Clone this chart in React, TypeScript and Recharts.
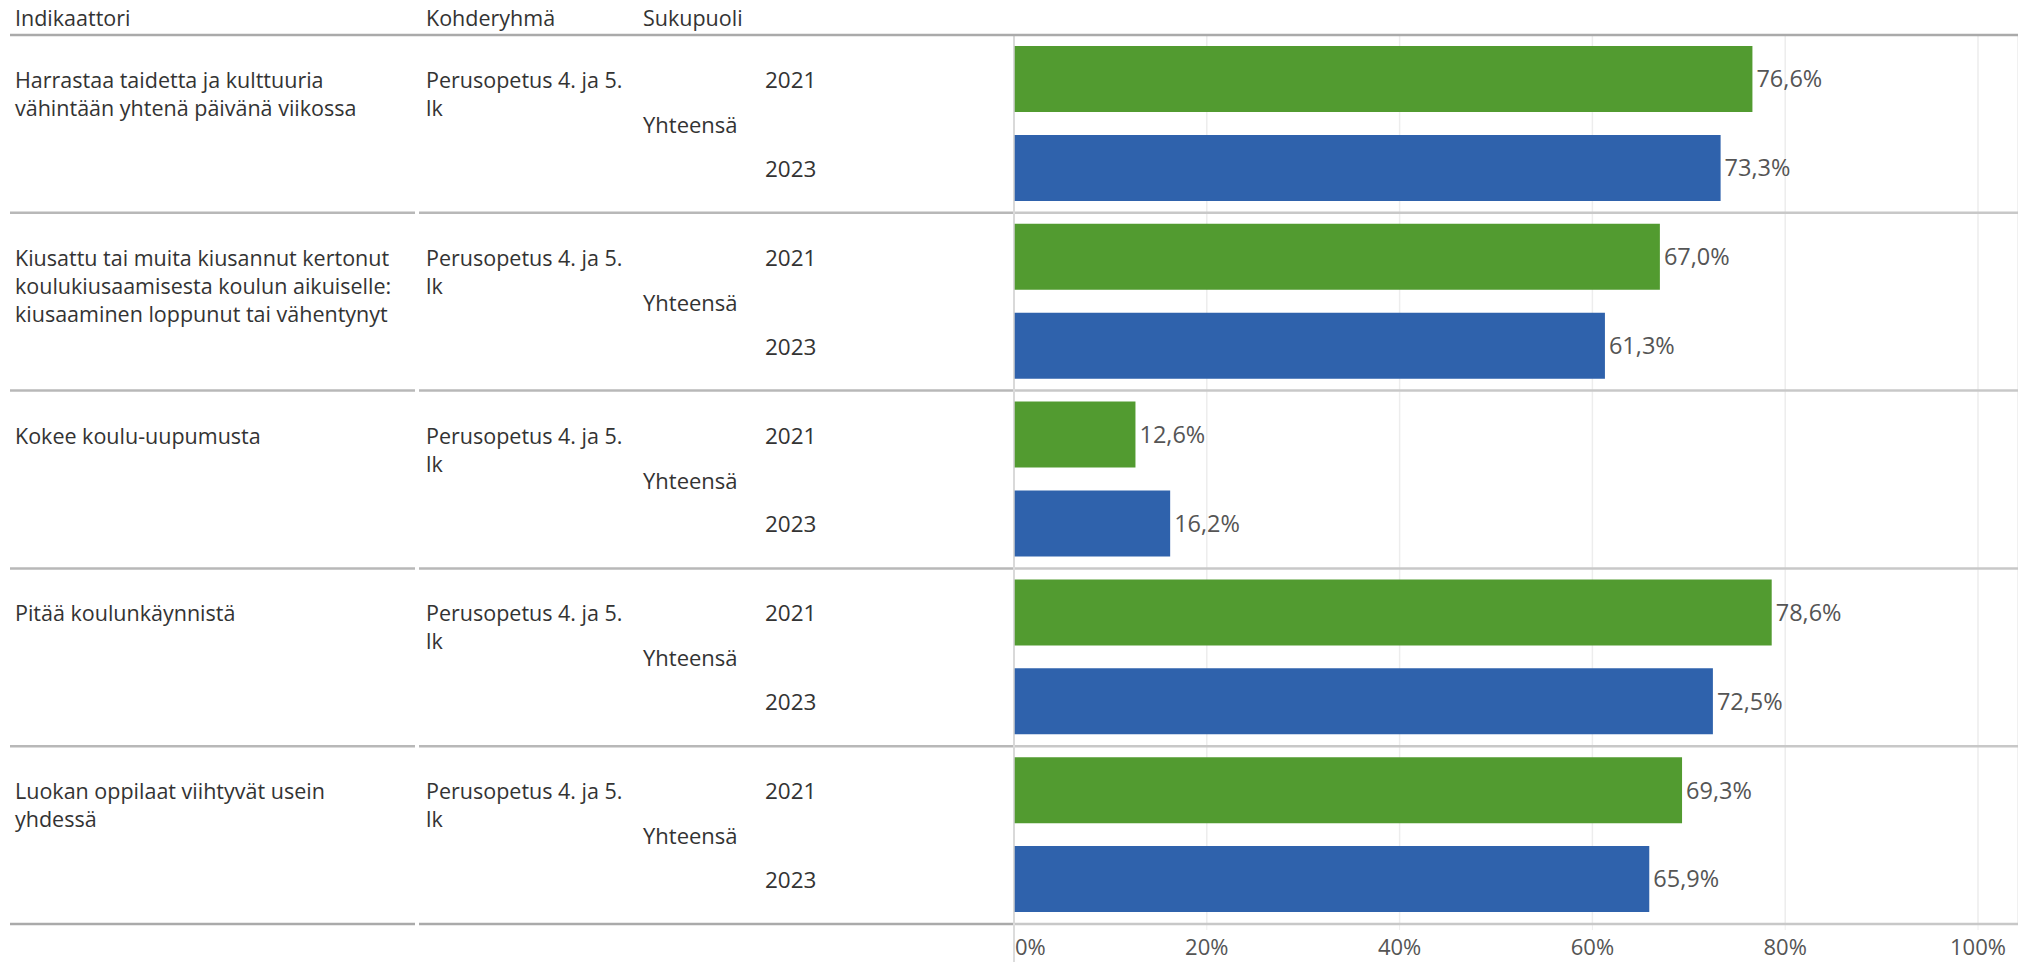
import React from "react";
import { BarChart, Bar, XAxis, YAxis, CartesianGrid, Cell, LabelList, ReferenceLine } from "recharts";

const indicators = [
  ["Harrastaa taidetta ja kulttuuria", "vähintään yhtenä päivänä viikossa"],
  ["Kiusattu tai muita kiusannut kertonut", "koulukiusaamisesta koulun aikuiselle:", "kiusaaminen loppunut tai vähentynyt"],
  ["Kokee koulu-uupumusta"],
  ["Pitää koulunkäynnistä"],
  ["Luokan oppilaat viihtyvät usein", "yhdessä"],
];
const targetGroup = ["Perusopetus 4. ja 5.", "lk"];
const genderLabel = "Yhteensä";
const headers = ["Indikaattori", "Kohderyhmä", "Sukupuoli"];
const years = ["2021", "2023"];
const values2021 = [76.6, 67.0, 12.6, 78.6, 69.3];
const values2023 = [73.3, 61.3, 16.2, 72.5, 65.9];
const xTicks = [0, 20, 40, 60, 80, 100];

const colors: Record<string, string> = { "2021": "#529b30", "2023": "#2f62ac" };

const W = 2018;
const H = 962;
const TOP = 35;
const BOTTOM_Y = 924;
const LEFT = 1014;
const FONT = "'Open Sans', Lato, sans-serif";
const FS = 21.5;

const data = indicators.flatMap((ind, i) =>
  years.map((yr, j) => ({
    key: `${i}-${yr}`,
    group: i,
    year: yr,
    value: j === 0 ? values2021[i] : values2023[i],
  }))
);

const band = (BOTTOM_Y - TOP) / data.length;
const SEP = "#b8b8b8";

const fmt = (v: number) => v.toFixed(1).replace(".", ",") + "%";

const YTick = (props: any) => {
  const { y, payload } = props;
  const d = data.find((r) => r.key === payload.value);
  if (!d) return null;
  const els: any[] = [];
  const isFirst = d.year === years[0];
  els.push(
    <text key="yr" x={765} y={y} dominantBaseline="central" fontSize={22.5} fill="#333" fontFamily={FONT}>
      {d.year}
    </text>
  );
  if (isFirst) {
    const top = y - band / 2;
    indicators[d.group].forEach((ln, k) =>
      els.push(
        <text key={"i" + k} x={15} y={y + k * 28} dominantBaseline="central" fontSize={FS} fill="#333" fontFamily={FONT}>
          {ln}
        </text>
      )
    );
    targetGroup.forEach((ln, k) =>
      els.push(
        <text key={"t" + k} x={426} y={y + k * 28} dominantBaseline="central" fontSize={FS} fill="#333" fontFamily={FONT}>
          {ln}
        </text>
      )
    );
    els.push(
      <text key="g" x={643} y={y + band / 2} dominantBaseline="central" fontSize={22} fill="#333" fontFamily={FONT}>
        {genderLabel}
      </text>
    );
    if (d.group === 0) {
      const hx = [15, 426, 643];
      headers.forEach((h, k) =>
        els.push(
          <text key={"h" + k} x={hx[k]} y={top - 18} dominantBaseline="central" fontSize={FS} fill="#333" fontFamily={FONT}>
            {h}
          </text>
        )
      );
      els.push(<line key="hl" x1={10} x2={W} y1={top} y2={top} stroke="#aaa" strokeWidth={2.5} />);
    } else {
      els.push(<line key="s1" x1={10} x2={415} y1={top} y2={top} stroke={SEP} strokeWidth={2.5} />);
      els.push(<line key="s2" x1={419} x2={LEFT - 1} y1={top} y2={top} stroke={SEP} strokeWidth={2.5} />);
      els.push(<line key="s3" x1={LEFT + 1} x2={W} y1={top} y2={top} stroke="#c8c8c8" strokeWidth={2.5} />);
    }
  } else if (d.group === indicators.length - 1) {
    const bot = y + band / 2;
    els.push(<line key="b1" x1={10} x2={415} y1={bot} y2={bot} stroke="#aaa" strokeWidth={2.5} />);
    els.push(<line key="b2" x1={419} x2={LEFT - 1} y1={bot} y2={bot} stroke="#aaa" strokeWidth={2.5} />);
    els.push(<line key="b3" x1={LEFT + 1} x2={W} y1={bot} y2={bot} stroke="#c8c8c8" strokeWidth={2.5} />);
  }
  return <g>{els}</g>;
};

const XTick = (props: any) => {
  const { x, payload } = props;
  const v = payload.value;
  return (
    <g>
      {v === 0 && <line x1={x} x2={x} y1={BOTTOM_Y} y2={H} stroke="#d0d0d0" strokeWidth={1.5} />}
      {v !== 0 && <line x1={x} x2={x} y1={BOTTOM_Y} y2={BOTTOM_Y + 6} stroke="#eee" strokeWidth={1} />}
      <text
        x={v === 0 ? x + 1 : x}
        y={946}
        textAnchor={v === 0 ? "start" : "middle"}
        dominantBaseline="central"
        fontSize={22}
        fill="#555"
        fontFamily={FONT}
      >
        {v + "%"}
      </text>
    </g>
  );
};

export default function App() {
  return (
    <div style={{ position: "absolute", left: 0, top: 0, width: W, height: H, background: "#fff" }}>
      <BarChart
        width={W}
        height={H}
        data={data}
        layout="vertical"
        margin={{ top: TOP, right: 0, left: 0, bottom: H - BOTTOM_Y - 30 }}
        barCategoryGap={0}
      >
        <CartesianGrid horizontal={false} vertical={true} stroke="#ededed" strokeWidth={1.5} />
        <XAxis
          type="number"
          domain={[0, (W - LEFT) / ((1978 - LEFT) / 100)]}
          ticks={xTicks}
          axisLine={false}
          tickLine={false}
          height={30}
          tick={<XTick />}
          interval={0}
        />
        <YAxis
          type="category"
          dataKey="key"
          width={LEFT}
          axisLine={false}
          tickLine={false}
          tick={<YTick />}
          interval={0}
        />
        <ReferenceLine x={0} stroke="#d0d0d0" strokeWidth={1.5} />
        <Bar dataKey="value" barSize={66} isAnimationActive={false}>
          {data.map((d) => (
            <Cell key={d.key} fill={colors[d.year]} />
          ))}
          <LabelList
            dataKey="value"
            position="right"
            offset={4}
            formatter={(v: any) => fmt(Number(v))}
            style={{ fontSize: 23.5, fill: "#555", fontFamily: FONT }}
          />
        </Bar>
      </BarChart>
    </div>
  );
}
